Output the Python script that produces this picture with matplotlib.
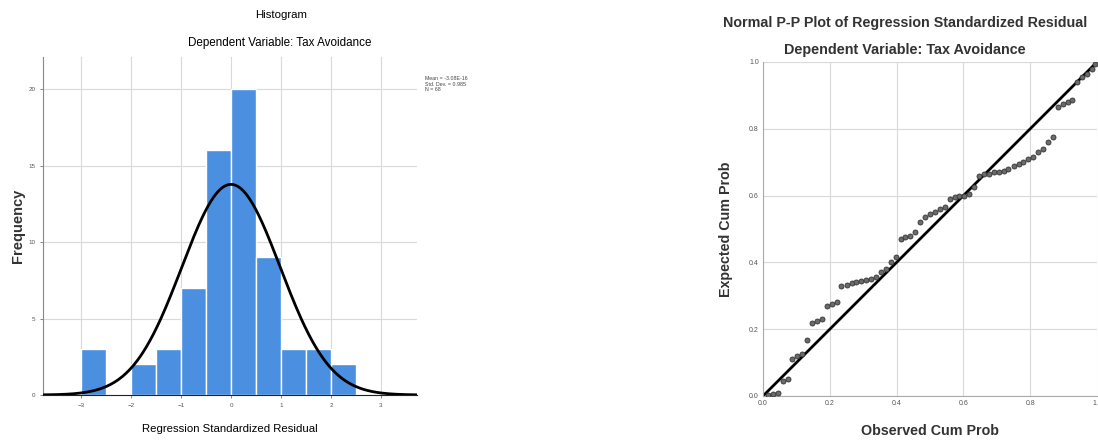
import numpy as np
import matplotlib
matplotlib.use("Agg")
import matplotlib.pyplot as plt

plt.rcParams['font.family'] = ['Liberation Sans', 'DejaVu Sans']

# ---------------- data ----------------
bin_edges = [-3.0, -2.5, -2.0, -1.5, -1.0, -0.5, 0.0, 0.5, 1.0, 1.5, 2.0, 2.5]
bin_counts = [3, 0, 2, 3, 7, 16, 20, 9, 3, 3, 2]
hist_xticks = [-3, -2, -1, 0, 1, 2, 3]
hist_yticks = [0, 5, 10, 15, 20]
resid_mean = -3.08e-16
resid_std = 0.985
resid_n = 68

observed_cum = [0.015, 0.029, 0.044, 0.059, 0.074, 0.088, 0.103, 0.118, 0.132, 0.147,
                0.162, 0.176, 0.191, 0.206, 0.221, 0.235, 0.250, 0.265, 0.279, 0.294,
                0.309, 0.324, 0.338, 0.353, 0.368, 0.382, 0.397, 0.412, 0.426, 0.441,
                0.456, 0.471, 0.485, 0.500, 0.515, 0.529, 0.544, 0.559, 0.574, 0.588,
                0.603, 0.618, 0.632, 0.647, 0.662, 0.676, 0.691, 0.706, 0.721, 0.735,
                0.750, 0.765, 0.779, 0.794, 0.809, 0.824, 0.838, 0.853, 0.868, 0.882,
                0.897, 0.912, 0.926, 0.941, 0.956, 0.971, 0.985, 0.995]
expected_cum = [0.003, 0.005, 0.008, 0.045, 0.050, 0.110, 0.120, 0.125, 0.168, 0.220,
                0.225, 0.230, 0.270, 0.275, 0.280, 0.330, 0.333, 0.337, 0.340, 0.343,
                0.347, 0.350, 0.355, 0.370, 0.380, 0.400, 0.415, 0.470, 0.475, 0.480,
                0.490, 0.520, 0.535, 0.545, 0.550, 0.560, 0.565, 0.590, 0.595, 0.598,
                0.600, 0.605, 0.625, 0.660, 0.665, 0.665, 0.670, 0.670, 0.675, 0.680,
                0.690, 0.695, 0.700, 0.710, 0.715, 0.730, 0.740, 0.760, 0.775, 0.865,
                0.875, 0.880, 0.885, 0.940, 0.955, 0.965, 0.980, 0.995]
pp_ticks = [0.0, 0.2, 0.4, 0.6, 0.8, 1.0]
pp_ticklabels = ['0.0', '0.2', '0.4', '0.6', '0.8', '1.0']

# ---------------- figure ----------------
fig = plt.figure(figsize=(10.98, 4.43), dpi=100)
grid_c = '#d9d9d9'
tick_c = '#555555'

# Histogram
ax1 = fig.add_axes([43/1098, 48/443, 374/1098, 338/443])
edges = np.array(bin_edges)
ax1.bar(edges[:-1], bin_counts, width=np.diff(edges), align='edge',
        color='#4A8FE0', edgecolor='white', linewidth=1.0, zorder=2)
xs = np.linspace(-3.76, 3.72, 400)
binw = edges[1] - edges[0]
pdf = resid_n * binw / (resid_std * np.sqrt(2 * np.pi)) * np.exp(-0.5 * ((xs - resid_mean) / resid_std) ** 2)
ax1.plot(xs, pdf, color='black', lw=2, zorder=3)
ax1.set_xlim(-3.76, 3.72)
ax1.set_ylim(0, 22.1)
ax1.set_xticks(hist_xticks)
ax1.set_yticks(hist_yticks)
ax1.tick_params(labelsize=4.5, colors=tick_c, length=2, width=0.5)
ax1.grid(True, color=grid_c, lw=0.8, zorder=0)
ax1.set_axisbelow(True)
for s in ['top', 'right']:
    ax1.spines[s].set_visible(False)
ax1.spines['left'].set_color('#888888')
ax1.spines['bottom'].set_color('#222222')
ax1.set_ylabel('Frequency', fontsize=10.5, fontweight='bold', color='#333333', va='center')
ax1.yaxis.set_label_coords(-(43 - 18) / 374, 0.5)
ax1.set_xlabel('Regression Standardized Residual', fontsize=8.2, labelpad=12)
fig.text(281/1098, 1 - 15/443, 'Histogram', ha='center', va='center', fontsize=8.2)
fig.text(280/1098, 1 - 43/443, 'Dependent Variable: Tax Avoidance', ha='center', va='center', fontsize=8.4)
fig.text(425/1098, 1 - 84/443, 'Mean = -3.08E-16\nStd. Dev. = 0.985\nN = 68',
         ha='left', va='center', fontsize=3.8, color='#444444', linespacing=1.2)

# P-P plot
ax2 = fig.add_axes([763/1098, 47/443, 334/1098, 334/443])
ax2.plot([0, 1], [0, 1], color='black', lw=2, zorder=2)
ax2.scatter(observed_cum, expected_cum, s=13, facecolor='#6b6b6b', edgecolor='#333333',
            linewidth=0.6, zorder=3)
ax2.set_xlim(0, 1)
ax2.set_ylim(0, 1)
ax2.set_xticks(pp_ticks)
ax2.set_xticklabels(pp_ticklabels)
ax2.set_yticks(pp_ticks)
ax2.set_yticklabels(pp_ticklabels)
ax2.tick_params(labelsize=5, colors=tick_c, length=0, pad=3)
ax2.grid(True, color=grid_c, lw=0.8, zorder=0)
ax2.set_axisbelow(True)
for s in ['top', 'right']:
    ax2.spines[s].set_visible(False)
ax2.spines['left'].set_color('#aaaaaa')
ax2.spines['bottom'].set_color('#aaaaaa')
ax2.set_ylabel('Expected Cum Prob', fontsize=10.3, fontweight='bold', color='#333333', va='center')
ax2.yaxis.set_label_coords(-(763 - 726) / 334, 0.5)
ax2.set_xlabel('Observed Cum Prob', fontsize=10.3, fontweight='bold', color='#333333', va='center')
ax2.xaxis.set_label_coords(0.5, -(431 - 396) / 334)
fig.text(905/1098, 1 - 23/443, 'Normal P-P Plot of Regression Standardized Residual',
         ha='center', va='center', fontsize=10.3, fontweight='bold', color='#333333')
fig.text(905/1098, 1 - 50/443, 'Dependent Variable: Tax Avoidance',
         ha='center', va='center', fontsize=10.4, fontweight='bold', color='#333333')

fig.savefig('out.png', dpi=100)
